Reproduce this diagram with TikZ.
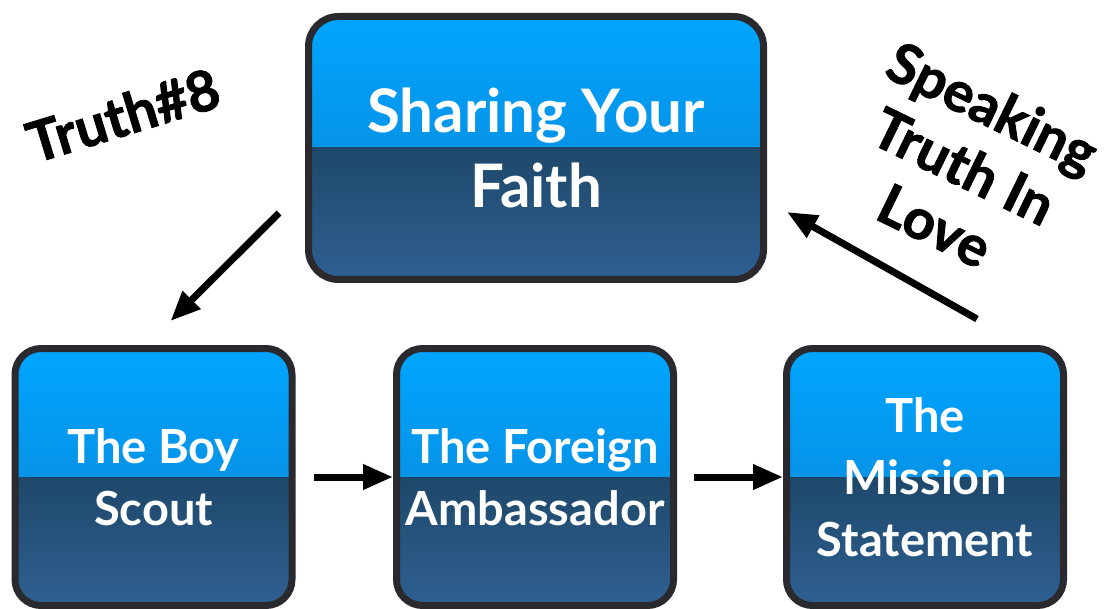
\documentclass[tikz,border=0pt]{standalone}
\usepackage{fontspec}
\setmainfont{Lato}
\newfontfamily\heavyfont{Lato}[BoldFeatures={FakeBold=1.5}]
\usetikzlibrary{arrows.meta}
\definecolor{skytop}{RGB}{0,165,255}
\definecolor{skymid}{RGB}{12,130,208}
\definecolor{deeptop}{RGB}{30,72,106}
\definecolor{deepbot}{RGB}{47,96,146}
\definecolor{rim}{RGB}{42,42,46}
\begin{document}
\begin{tikzpicture}[
  x=1pt, y=-1pt,
  card/.style={draw=rim, line width=7pt, rounded corners=26pt, text=white, align=center,
    font=\bfseries\fontsize{47}{62}\selectfont, inner sep=0pt,
    minimum width=277pt, minimum height=257pt,
    path picture={
      \shade[sharp corners, top color=skytop, bottom color=skymid] (path picture bounding box.north west) rectangle (path picture bounding box.east);
      \shade[sharp corners, top color=deeptop, bottom color=deepbot] (path picture bounding box.west) rectangle (path picture bounding box.south east);
    }},
  flow/.style={-{Triangle[length=30pt,width=24pt]}, line width=7pt},
  tag/.style={font=\heavyfont\bfseries\fontsize{56}{66}\selectfont, align=center}
]
\useasboundingbox (0,0) rectangle (1118,609);
\node[card, minimum width=455pt, minimum height=263pt, rounded corners=30pt,
  font=\bfseries\fontsize{60}{75}\selectfont] (faith) at (536,148) {Sharing Your\\Faith};
\node[card] (scout) at (153.5,477) {The Boy\\Scout};
\node[card] (envoy) at (535,477) {The Foreign\\Ambassador};
\node[card] (mission) at (925,477) {The\\Mission\\Statement};

\draw[flow] ([xshift=18pt]scout.east) -- (envoy.west);
\draw[flow] ([xshift=17pt]envoy.east) -- (mission.west);
\draw[flow] ([xshift=-26pt,yshift=-65pt]faith.west) -- ([xshift=17pt,yshift=24pt]scout.north);
\draw[flow] ([xshift=52pt,yshift=26pt]mission.north) -- ([xshift=20pt,yshift=-64pt]faith.east);

\node[tag, rotate=17] (truth) at (123,115) {Truth\#8};
\node[tag, rotate=-26] (speak) at (964,166) {Speaking\\Truth In\\Love};
\end{tikzpicture}
\end{document}
